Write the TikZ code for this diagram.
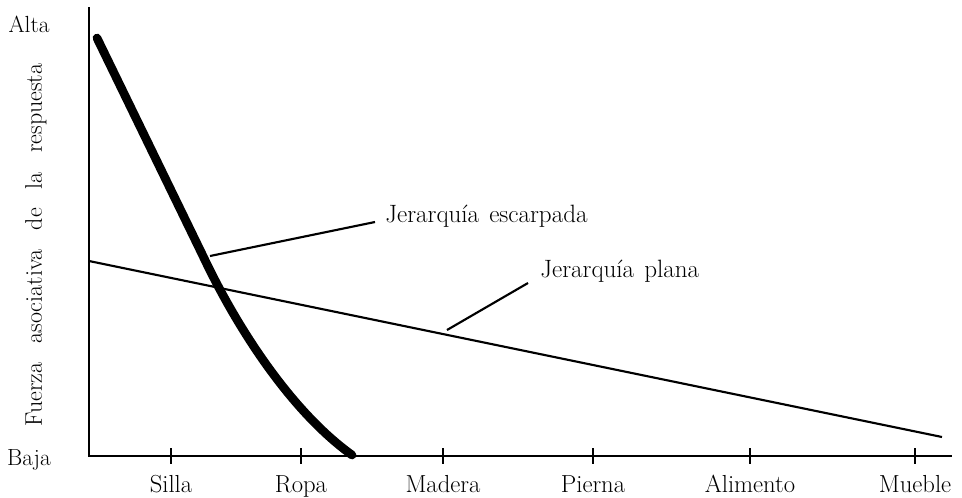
\documentclass[tikz,border=0pt]{standalone}
\usepackage{fontspec}
\begin{document}
\begin{tikzpicture}[x=0.75pt,y=-0.75pt,
  axisline/.style={line width=2pt},
  tickline/.style={line width=1.8pt},
  flatline/.style={line width=1.6pt},
  steepline/.style={line width=6.5pt,line cap=round},
  leader/.style={line width=1.6pt},
  xlbl/.style={font=\fontsize{18.5}{22}\selectfont,inner sep=0pt,anchor=base},
  ylbl/.style={font=\fontsize{17.5}{21}\selectfont,inner sep=0pt,anchor=base},
  curvelbl/.style={font=\fontsize{18.8}{22}\selectfont,inner sep=0pt,anchor=base west}]
\useasboundingbox (0,0) rectangle (962,497);
% axes
\coordinate (top) at (89,7);
\coordinate (origin) at (89,456);
\coordinate (right) at (952,456);
\draw[axisline] (top) -- (origin) -- (right);
% ticks and labels
\foreach \x/\name/\t in {171/silla/Silla,301/ropa/Ropa,443/madera/Madera,593/pierna/Pierna,750/alimento/Alimento,915/mueble/Mueble}{
  \coordinate (t\name) at (\x,448);
  \coordinate (b\name) at (\x,464);
  \draw[tickline] (t\name) -- (b\name);
  \node[xlbl] (l\name) at (\x,492) {\t};
}
% y labels
\node[ylbl] (alta) at (29,32) {Alta};
\node[ylbl] (baja) at (29,465) {Baja};
\node[font=\fontsize{18}{21}\selectfont,inner sep=0pt,rotate=90] (yaxis) at (36,245)
  {Fuerza\hspace{0.8em}asociativa\hspace{0.8em}de\hspace{0.8em}la\hspace{0.8em}respuesta};
% flat hierarchy
\coordinate (f1) at (89,261);
\coordinate (f2) at (942,437);
\draw[flatline] (f1) -- (f2);
% steep hierarchy
\coordinate (s1) at (97,38);
\coordinate (s2) at (203,256);
\coordinate (s3) at (352,455);
\draw[steepline] (s1) -- (s2) .. controls (238,330) and (292,412) .. (s3);
% labels with leaders
\node[curvelbl] (esc) at (385,222) {Jerarquía\hspace{0.4em}escarpada};
\node[curvelbl] (pla) at (540,277) {Jerarquía\hspace{0.4em}plana};
\coordinate (escA) at (210,256);
\coordinate (escB) at (375,222);
\coordinate (plaA) at (447,330);
\coordinate (plaB) at (528,283);
\draw[leader] (escA) -- (escB);
\draw[leader] (plaA) -- (plaB);
\end{tikzpicture}
\end{document}
